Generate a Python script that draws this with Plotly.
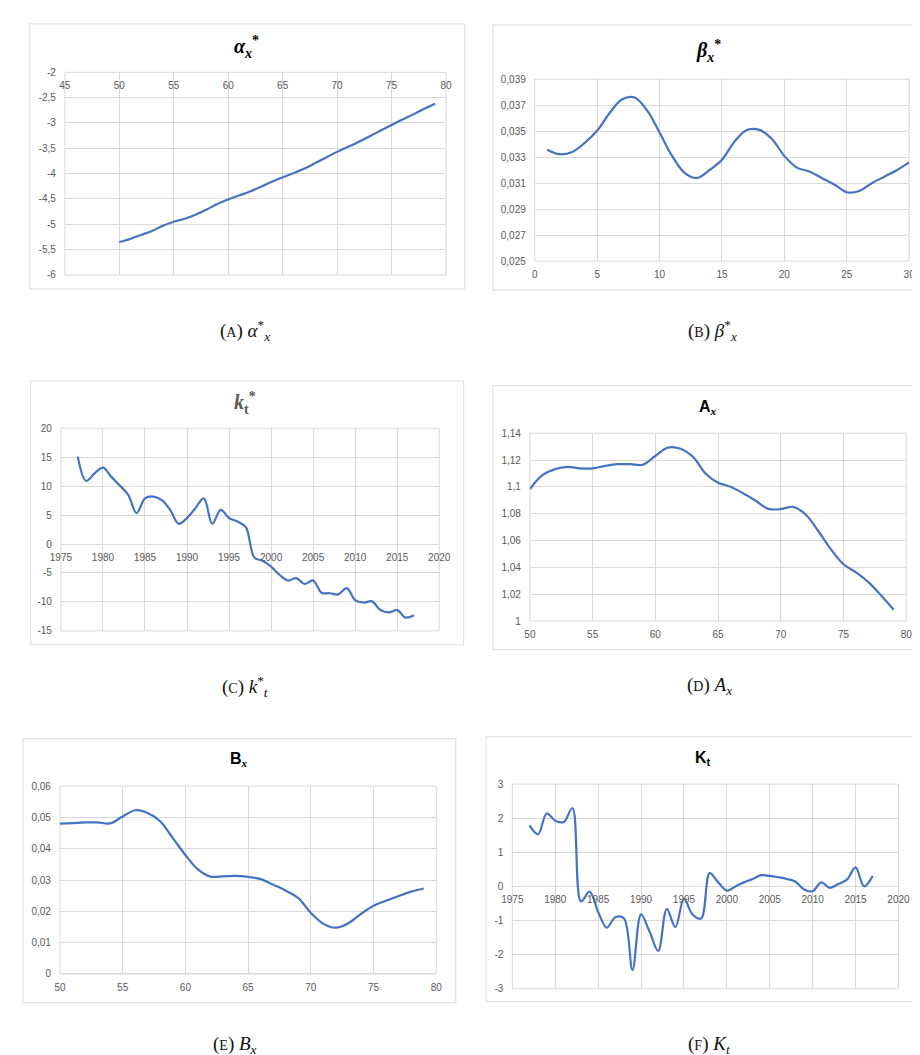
import plotly.graph_objects as go

W, H = 920, 1055

# ---------------- data ----------------
ages = [50, 51, 52, 53, 54, 55, 56, 57, 58, 59, 60, 61, 62, 63, 64,
        65, 66, 67, 68, 69, 70, 71, 72, 73, 74, 75, 76, 77, 78, 79]
alpha_star = [-5.35, -5.29, -5.21, -5.13, -5.03, -4.95, -4.89, -4.81, -4.71, -4.60,
              -4.51, -4.43, -4.35, -4.26, -4.16, -4.07, -3.99, -3.90, -3.79, -3.68,
              -3.57, -3.47, -3.37, -3.26, -3.15, -3.04, -2.93, -2.83, -2.72, -2.62]

beta_idx = [1, 2, 3, 4, 5, 6, 7, 8, 9, 10, 11, 12, 13, 14, 15,
            16, 17, 18, 19, 20, 21, 22, 23, 24, 25, 26, 27, 28, 29, 30]
beta_star = [0.03358, 0.03323, 0.0334, 0.0341, 0.03505, 0.0364, 0.03746, 0.0376, 0.0366, 0.0349,
             0.0331, 0.0318, 0.0314, 0.0320, 0.0328, 0.0342, 0.0351, 0.0351, 0.0344, 0.0331,
             0.0322, 0.0319, 0.0314, 0.0309, 0.0303, 0.0304, 0.0310, 0.0315, 0.0320, 0.0326]

years = [1977, 1978, 1979, 1980, 1981, 1982, 1983, 1984, 1985, 1986, 1987, 1988, 1989, 1990,
         1991, 1992, 1993, 1994, 1995, 1996, 1997, 1998, 1999, 2000, 2001, 2002, 2003, 2004,
         2005, 2006, 2007, 2008, 2009, 2010, 2011, 2012, 2013, 2014, 2015, 2016, 2017]
k_star = [15.1, 10.9, 12.2, 13.2, 11.6, 10.1, 8.5, 5.35, 7.9, 8.2, 7.6, 5.9, 3.5, 4.5,
          6.2, 7.9, 3.5, 5.9, 4.5, 3.9, 2.9, -2.3, -2.9, -3.9, -5.3, -6.3, -5.9, -6.9,
          -6.3, -8.4, -8.5, -8.7, -7.6, -9.7, -10.1, -9.9, -11.4, -11.8, -11.4, -12.7, -12.3]

A_x = [1.0984, 1.1087, 1.1132, 1.1149, 1.1137, 1.1137, 1.1156, 1.1169, 1.1169, 1.1165,
       1.1230, 1.1292, 1.1284, 1.1223, 1.1100, 1.1031, 1.1001, 1.0952, 1.0896, 1.0836,
       1.0834, 1.0851, 1.0792, 1.0669, 1.0534, 1.0423, 1.0362, 1.0288, 1.0190, 1.0084]

B_x = [0.0480, 0.0482, 0.0484, 0.0484, 0.0481, 0.0503, 0.0523, 0.0514, 0.0487, 0.0434,
       0.0380, 0.0334, 0.0311, 0.0312, 0.0313, 0.0310, 0.0303, 0.0285, 0.0266, 0.0242,
       0.0195, 0.0160, 0.0148, 0.0162, 0.0192, 0.0218, 0.0234, 0.0249, 0.0263, 0.0273]

K_t = [1.79, 1.53, 2.14, 1.93, 1.89, 2.30, -0.44, -0.15, -0.75, -1.21, -0.90, -0.93, -2.45, -0.82,
       -1.33, -1.89, -0.66, -1.19, -0.36, -0.82, -0.94, 0.39, 0.12, -0.12, 0.00, 0.12, 0.22, 0.33,
       0.31, 0.27, 0.22, 0.14, -0.09, -0.14, 0.12, -0.04, 0.07, 0.20, 0.56, 0.00, 0.31]

# tick values / labels
xt_alpha = [45, 50, 55, 60, 65, 70, 75, 80]
xt_beta = [0, 5, 10, 15, 20, 25, 30]
xt_age = [50, 55, 60, 65, 70, 75, 80]
xt_year = [1975, 1980, 1985, 1990, 1995, 2000, 2005, 2010, 2015, 2020]

yt_alpha = [-2, -2.5, -3, -3.5, -4, -4.5, -5, -5.5, -6]
yl_alpha = ["-2", "-2,5", "-3", "-3,5", "-4", "-4,5", "-5", "-5,5", "-6"]
yt_beta = [0.025, 0.027, 0.029, 0.031, 0.033, 0.035, 0.037, 0.039]
yl_beta = ["0,025", "0,027", "0,029", "0,031", "0,033", "0,035", "0,037", "0,039"]
yt_k = [20, 15, 10, 5, 0, -5, -10, -15]
yl_k = ["20", "15", "10", "5", "0", "-5", "-10", "-15"]
yt_A = [1, 1.02, 1.04, 1.06, 1.08, 1.1, 1.12, 1.14]
yl_A = ["1", "1,02", "1,04", "1,06", "1,08", "1,1", "1,12", "1,14"]
yt_B = [0, 0.01, 0.02, 0.03, 0.04, 0.05, 0.06]
yl_B = ["0", "0,01", "0,02", "0,03", "0,04", "0,05", "0,06"]
yt_K = [3, 2, 1, 0, -1, -2, -3]
yl_K = ["3", "2", "1", "0", "-1", "-2", "-3"]

SERIF_T = "Liberation Serif"
SANS = "Liberation Sans"
SC = "<span style='font-size:14px'>{}</span>"

panels = [
    dict(x=ages, y=alpha_star, plot=(47, 438, 59, 264), box=(11, 457, 10, 278),
         xr=(45, 80), xt=xt_alpha, yr=(-6, -2), yt=yt_alpha, yl=yl_alpha, cross=-2,
         title="<b><i>α</i></b><sub><b><i>x</i></b></sub><sup><b>*</b></sup>",
         tfont=dict(family=SERIF_T, size=20, color="#000000"), tpos=(233, 33),
         cap="(" + SC.format("A") + ") <i>α</i><sup>*</sup><sub><i>x</i></sub>",
         cpos=(232, 320)),
    dict(x=beta_idx, y=beta_star, plot=(529, 913, 66, 250), box=(486, 925, 11, 279),
         xr=(0, 30), xt=xt_beta, yr=(0.025, 0.039), yt=yt_beta, yl=yl_beta, cross=0.025,
         title="<b><i>β</i></b><sub><b><i>x</i></b></sub><sup><b>*</b></sup>",
         tfont=dict(family=SERIF_T, size=20, color="#000000"), tpos=(707, 37),
         cap="(" + SC.format("B") + ") <i>β</i><sup>*</sup><sub><i>x</i></sub>",
         cpos=(711, 320)),
    dict(x=years, y=k_star, plot=(43, 431, 419, 624), box=(12, 456, 371, 638),
         xr=(1975, 2020), xt=xt_year, yr=(-15, 20), yt=yt_k, yl=yl_k, cross=0,
         title="<b><i>k</i></b><sub><b>t</b></sub><sup><b>*</b></sup>",
         tfont=dict(family=SERIF_T, size=20, color="#595959"), tpos=(232, 393),
         cap="(" + SC.format("C") + ") <i>k</i><sup>*</sup><sub><i>t</i></sub>",
         cpos=(232, 680)),
    dict(x=ages, y=A_x, plot=(524, 910, 424, 614), box=(486, 925, 376, 643),
         xr=(50, 80), xt=xt_age, yr=(1, 1.14), yt=yt_A, yl=yl_A, cross=1,
         title="<b>A</b><sub><b><i><span style='font-family:Liberation Serif'>x</span></i></b></sub>",
         tfont=dict(family=SANS, size=16, color="#000000"), tpos=(707, 398),
         cap="(" + SC.format("D") + ") <i>A</i><sub><i>x</i></sub>",
         cpos=(708, 680)),
    dict(x=ages, y=B_x, plot=(42, 428, 781, 971), box=(4, 448, 733, 1000),
         xr=(50, 80), xt=xt_age, yr=(0, 0.06), yt=yt_B, yl=yl_B, cross=0,
         title="<b>B</b><sub><b><i><span style='font-family:Liberation Serif'>x</span></i></b></sub>",
         tfont=dict(family=SANS, size=16, color="#000000"), tpos=(226, 754),
         cap="(" + SC.format("E") + ") <i>B</i><sub><i>x</i></sub>",
         cpos=(222, 1043)),
    dict(x=years, y=K_t, plot=(506, 902, 779, 986), box=(479, 925, 731, 999),
         xr=(1975, 2020), xt=xt_year, yr=(-3, 3), yt=yt_K, yl=yl_K, cross=0,
         title="<b>K</b><sub><b>t</b></sub>",
         tfont=dict(family=SANS, size=16, color="#000000"), tpos=(702, 753),
         cap="(" + SC.format("F") + ") <i>K</i><sub><i>t</i></sub>",
         cpos=(708, 1043)),
]

GRID = "#D9D9D9"
TICKC = "#595959"
LINEC = "#4472C4"

fig = go.Figure()
layout = dict(width=W, height=H, margin=dict(l=0, r=0, t=0, b=0),
              paper_bgcolor="white", plot_bgcolor="white", showlegend=False)
shapes, annotations = [], []


def px(x):
    return x / W


def py(y):
    return 1 - y / H


for i, p in enumerate(panels, start=1):
    xa = "x" if i == 1 else f"x{i}"
    ya = "y" if i == 1 else f"y{i}"
    xk = "xaxis" if i == 1 else f"xaxis{i}"
    yk = "yaxis" if i == 1 else f"yaxis{i}"
    x0, x1, ytop, ybot = p["plot"]
    yd0, yd1 = py(ybot), py(ytop)
    pos = yd0 + (p["cross"] - p["yr"][0]) / (p["yr"][1] - p["yr"][0]) * (yd1 - yd0)

    fig.add_trace(go.Scatter(x=p["x"], y=p["y"], mode="lines",
                             line=dict(color=LINEC, width=2.2, shape="spline", smoothing=1.0),
                             xaxis=xa, yaxis=ya, hoverinfo="skip"))
    layout[xk] = dict(domain=[px(x0), px(x1)], range=list(p["xr"]), anchor="free",
                      position=pos, side="bottom",
                      tickvals=p["xt"], ticktext=[str(v) for v in p["xt"]],
                      showgrid=True, gridcolor=GRID, gridwidth=1, zeroline=False,
                      showline=False, ticks="", ticklabelstandoff=6,
                      tickfont=dict(family=SANS, size=10, color=TICKC), fixedrange=True)
    layout[yk] = dict(domain=[yd0, yd1], range=list(p["yr"]), anchor=xa,
                      tickvals=p["yt"], ticktext=p["yl"],
                      showgrid=True, gridcolor=GRID, gridwidth=1,
                      zeroline=True, zerolinecolor=GRID, zerolinewidth=1,
                      showline=False, ticks="", ticklabelstandoff=8,
                      tickfont=dict(family=SANS, size=10, color=TICKC), fixedrange=True)
    # plot area frame (min/max gridlines)
    shapes.append(dict(type="rect", xref=f"{xa} domain", yref=f"{ya} domain",
                       x0=0, x1=1, y0=0, y1=1, line=dict(color=GRID, width=1), layer="below"))
    # chart border
    bx0, bx1, by0, by1 = p["box"]
    shapes.append(dict(type="rect", xref="paper", yref="paper",
                       x0=px(bx0), x1=px(bx1), y0=py(by1), y1=py(by0),
                       line=dict(color="#E3E3E3", width=1.2), layer="below"))
    annotations.append(dict(xref="paper", yref="paper", x=px(p["tpos"][0]), y=py(p["tpos"][1]),
                            text=p["title"], showarrow=False, font=p["tfont"],
                            xanchor="center", yanchor="middle"))
    annotations.append(dict(xref="paper", yref="paper", x=px(p["cpos"][0]), y=py(p["cpos"][1]),
                            text=p["cap"], showarrow=False,
                            font=dict(family=SERIF_T, size=19, color="#111111"),
                            xanchor="center", yanchor="middle"))

layout["shapes"] = shapes
layout["annotations"] = annotations
fig.update_layout(**layout)
fig.write_html("out.html")
